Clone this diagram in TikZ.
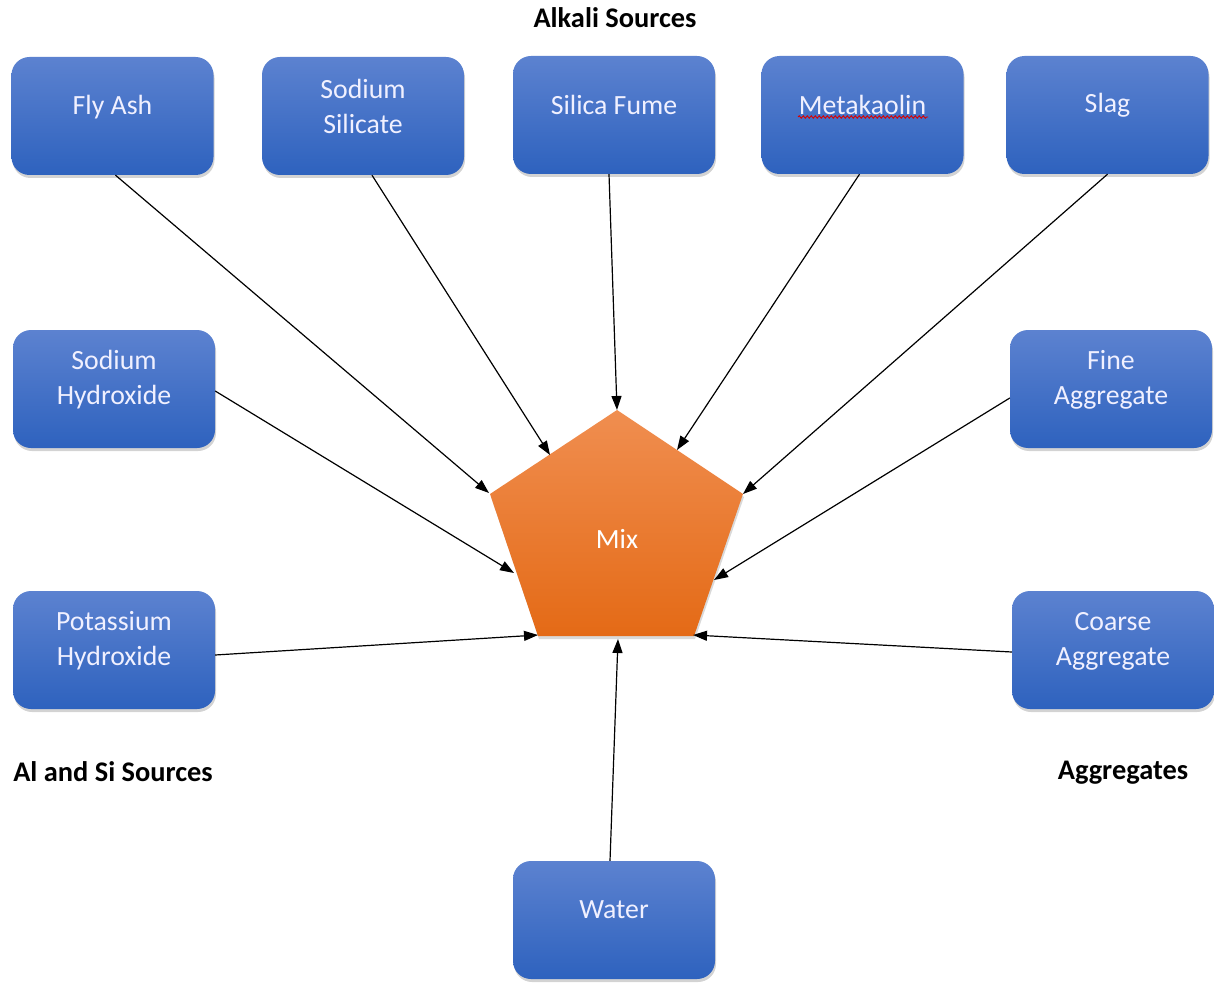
\documentclass[tikz,border=0pt]{standalone}
\usepackage{fontspec}
\setmainfont{Carlito}
\usetikzlibrary{arrows.meta,shadows,decorations.pathmorphing}
\definecolor{btop}{RGB}{92,130,208}
\definecolor{bbot}{RGB}{46,98,190}
\definecolor{otop}{RGB}{240,142,80}
\definecolor{obot}{RGB}{228,106,22}
\begin{document}
\begin{tikzpicture}[x=1pt,y=-1pt,
 box/.style={rounded corners=18pt, minimum width=202pt, minimum height=118pt, top color=btop, bottom color=bbot, draw=none, inner sep=0pt,
   drop shadow={opacity=0.35,shadow xshift=1pt,shadow yshift=-3pt}},
 txt/.style={text=white!94!blue, align=center, font=\fontsize{27.8}{35}\selectfont, inner sep=0pt},
 lbl/.style={font=\bfseries\fontsize{28.4}{34}\selectfont, inner sep=0pt},
 arr/.style={-{Triangle[length=14pt,width=10pt]}, line width=1.2pt}]
\useasboundingbox (0,0) rectangle (1214,984);
% boxes
\node[box] (fly) at (112.5,116) {};
\node[box] (sodsil) at (363,116) {};
\node[box] (silica) at (614,115) {};
\node[box] (meta) at (862.5,115) {};
\node[box] (slag) at (1107.5,115) {};
\node[box] (naoh) at (114,389) {};
\node[box] (fine) at (1111,389) {};
\node[box] (koh) at (114,650) {};
\node[box] (coarse) at (1113,650) {};
\node[box] (water) at (614,920) {};
% box texts
\node[txt] (flyT) at ([yshift=9pt]fly.center) {Fly Ash};
\node[txt] (sodsilT) at ([yshift=10pt]sodsil.center) {Sodium\\Silicate};
\node[txt] (silicaT) at ([yshift=10pt]silica.center) {Silica Fume};
\node[txt] (metaT) at ([yshift=10pt]meta.center) {Metakaolin};
\node[txt] (slagT) at ([yshift=10pt]slag.center) {Slag};
\node[txt] (naohT) at ([yshift=9pt]naoh.center) {Sodium\\Hydroxide};
\node[txt] (fineT) at ([yshift=9pt]fine.center) {Fine\\Aggregate};
\node[txt] (kohT) at ([yshift=9pt]koh.center) {Potassium\\Hydroxide};
\node[txt] (coarseT) at ([yshift=9pt]coarse.center) {Coarse\\Aggregate};
\node[txt] (waterT) at ([yshift=10pt]water.center) {Water};
\draw[red!85!black, line width=0.9pt, decorate, decoration={snake, amplitude=1.2pt, segment length=4pt}] (798,117) -- (928,117);
% pentagon
\coordinate (T) at (617,410);
\coordinate (UL) at (490,494);
\coordinate (UR) at (743,494);
\coordinate (LL) at (538,636);
\coordinate (LR) at (694,636);
\path[top color=otop, bottom color=obot, drop shadow={opacity=0.3,shadow xshift=1pt,shadow yshift=-3pt}] (T) -- (UR) -- (LR) -- (LL) -- (UL) -- cycle;
\node[txt, text=white] (mix) at (617,539) {Mix};
% arrow targets
\coordinate (pFly) at (489,493);
\coordinate (pSodsil) at (550,455);
\coordinate (pSilica) at (617,410);
\coordinate (pMeta) at (677,450);
\coordinate (pSlag) at (743,494);
\coordinate (pNaoh) at (514,573);
\coordinate (pFine) at (714,580);
\coordinate (pKoh) at (538,635);
\coordinate (pCoarse) at (693,635);
\coordinate (pWater) at (618,639);
% arrows
\draw[arr] ([xshift=3pt]fly.south) -- (pFly);
\draw[arr] ([xshift=9pt]sodsil.south) -- (pSodsil);
\draw[arr] ([xshift=-5pt]silica.south) -- (pSilica);
\draw[arr] ([xshift=-3pt]meta.south) -- (pMeta);
\draw[arr] (slag.south) -- (pSlag);
\draw[arr] ([yshift=-2pt]naoh.east) -- (pNaoh);
\draw[arr] ([yshift=-9pt]fine.west) -- (pFine);
\draw[arr] ([yshift=-5pt]koh.east) -- (pKoh);
\draw[arr] ([yshift=-2pt]coarse.west) -- (pCoarse);
\draw[arr] ([xshift=-4pt]water.north) -- (pWater);
% group labels
\node[lbl] (alk) at (615,18) {Alkali Sources};
\node[lbl] (alsi) at (113,772) {Al and Si Sources};
\node[lbl] (agg) at (1123,773) {Aggregates};
\end{tikzpicture}
\end{document}
